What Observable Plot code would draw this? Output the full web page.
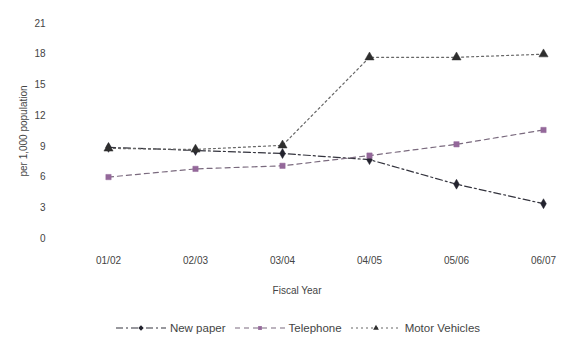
<!DOCTYPE html>
<html>
<head>
<meta charset="utf-8">
<script src="https://cdn.jsdelivr.net/npm/d3@7"></script>
<script src="https://cdn.jsdelivr.net/npm/@observablehq/plot@0.6"></script>
<style>
  html, body { margin: 0; padding: 0; background: #fff; }
  #chart { width: 565px; font-family: "Liberation Sans", Arial, sans-serif; color: #444; }
  #legend { display: flex; justify-content: center; align-items: center; gap: 8px;
            font-size: 11.5px; color: #444; margin-left: 30px; margin-top: 17px; }
  #legend .item { display: flex; align-items: center; gap: 3px; }
</style>
</head>
<body>
<div id="chart"></div>
<script>
// Fiscal years on the x axis
const years = ["01/02", "02/03", "03/04", "04/05", "05/06", "06/07"];
// Rates per 1,000 population for each complaint type
const newspaper = [8.9, 8.6, 8.3, 7.7, 5.3, 3.4];
const telephone = [6.0, 6.8, 7.1, 8.1, 9.2, 10.6];
const motorVehicles = [8.8, 8.7, 9.1, 17.7, 17.7, 18.0];
const yTicks = [0, 3, 6, 9, 12, 15, 18, 21];

const seriesDefs = [
  {name: "New paper", values: newspaper, line: "#33333d", dash: "7,3,2,3", mark: "diamond", fill: "#23232e", r: 3.0},
  {name: "Telephone", values: telephone, line: "#7a6a7e", dash: "5,4", mark: "square", fill: "#94689a", r: 3.0},
  {name: "Motor Vehicles", values: motorVehicles, line: "#666", dash: "2,3", mark: "triangle", fill: "#2e2e2e", r: 3.4}
];

const rows = seriesDefs.flatMap(s => years.map((y, i) => ({series: s.name, year: y, value: s.values[i]})));

const marks = [
  Plot.axisY({ticks: yTicks, tickSize: 0, tickPadding: 5, fontSize: 10,
              label: "per 1,000 population", labelAnchor: "center", labelArrow: "none", labelOffset: 31}),
  Plot.axisX({tickSize: 0, tickPadding: 18, fontSize: 10,
              label: "Fiscal Year", labelAnchor: "center", labelArrow: "none", labelOffset: 55})
];
for (const s of seriesDefs) {
  const d = rows.filter(r => r.series === s.name);
  marks.push(Plot.line(d, {x: "year", y: "value", stroke: s.line, strokeWidth: 1.2, strokeDasharray: s.dash}));
  marks.push(Plot.dot(d, {x: "year", y: "value", symbol: () => s.mark, r: s.r, fill: s.fill, stroke: s.fill, strokeWidth: 0.5}));
}

const plot = Plot.plot({
  width: 565,
  height: 305,
  marginLeft: 50,
  marginRight: 22,
  marginTop: 23,
  marginBottom: 67,
  style: {fontFamily: "Liberation Sans, Arial, sans-serif", fontSize: "10.5px", color: "#444", background: "#fff"},
  x: {type: "point", domain: years, padding: 0, insetLeft: 58},
  y: {domain: [0, 21]},
  marks
});
document.getElementById("chart").appendChild(plot);

// Legend below the chart
const legend = d3.select("#chart").append("div").attr("id", "legend");
for (const s of seriesDefs) {
  const item = legend.append("div").attr("class", "item");
  const svg = item.append("svg").attr("width", 52).attr("height", 10);
  svg.append("line").attr("x1", 1).attr("x2", 51).attr("y1", 5).attr("y2", 5)
    .attr("stroke", s.line).attr("stroke-width", 1.2).attr("stroke-dasharray", s.dash);
  const sym = {diamond: d3.symbolDiamond2, square: d3.symbolSquare2, triangle: d3.symbolTriangle2}[s.mark];
  svg.append("path").attr("transform", "translate(26,5)")
    .attr("d", d3.symbol(sym, (s.r * 1.6) ** 2 * 0.8)())
    .attr("fill", s.fill);
  item.append("span").text(s.name);
}
</script>
</body>
</html>
